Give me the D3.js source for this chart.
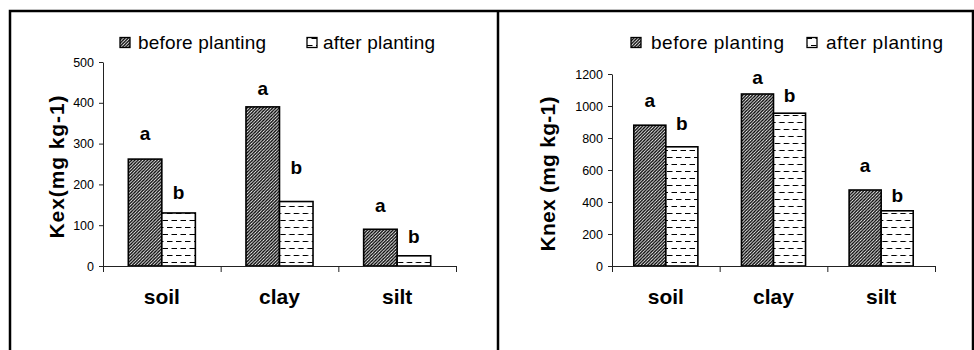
<!DOCTYPE html>
<html>
<head>
<meta charset="utf-8">
<script src="https://cdn.jsdelivr.net/npm/d3@7"></script>
<style>
  body { margin: 0; background: #fff; }
  svg { display: block; font-family: "Liberation Sans", Arial, sans-serif; }
</style>
</head>
<body>
<svg id="chart" width="974" height="350"></svg>
<script>
// the data
var categories = ['soil', 'clay', 'silt'];
var seriesNames = ['before planting', 'after planting'];

var kexBefore = [262, 390, 90];
var kexAfter = [130, 158, 25];
var kexTicks = [0, 100, 200, 300, 400, 500];

var knexBefore = [880, 1075, 475];
var knexAfter = [745, 955, 345];
var knexTicks = [0, 200, 400, 600, 800, 1000, 1200];

// significance letters and the level (in data units) where each one sits
var lettersBefore = ['a', 'a', 'a'];
var lettersAfter = ['b', 'b', 'b'];
var kexLetterLevelBefore = [309, 419, 132];
var kexLetterLevelAfter = [164, 225, 56];
var knexLetterLevelBefore = [996, 1138, 588];
var knexLetterLevelAfter = [850, 1025, 400];

var svg = d3.select('#chart');

// fill patterns
var defs = svg.append('defs');
var hatch = defs.append('pattern')
    .attr('id', 'hatch')
    .attr('patternUnits', 'userSpaceOnUse')
    .attr('width', 3.2)
    .attr('height', 3.2);
hatch.append('rect').attr('width', 3.2).attr('height', 3.2).attr('fill', '#fff');
hatch.append('path')
    .attr('d', 'M-1,1 L1,-1 M0,3.2 L3.2,0 M2.2,4.2 L4.2,2.2')
    .attr('stroke', '#000')
    .attr('stroke-width', 1.3);

var dash = defs.append('pattern')
    .attr('id', 'dash')
    .attr('patternUnits', 'userSpaceOnUse')
    .attr('width', 9)
    .attr('height', 14);
dash.append('rect').attr('width', 9).attr('height', 14).attr('fill', '#fff');
dash.append('path')
    .attr('d', 'M1,3.5 H6.5 M5.5,10.5 H11 M-3.5,10.5 H2')
    .attr('stroke', '#000')
    .attr('stroke-width', 1);

var fills = ['url(#hatch)', 'url(#dash)'];

// outer frame and divider
svg.append('path')
    .attr('d', 'M10,352 V11 H973 V352')
    .attr('fill', 'none')
    .attr('stroke', '#000')
    .attr('stroke-width', 2.5);
svg.append('line')
    .attr('x1', 498).attr('x2', 498)
    .attr('y1', 11).attr('y2', 352)
    .attr('stroke', '#000')
    .attr('stroke-width', 2.5);

function drawPanel(p) {
  var g = svg.append('g');

  var y = d3.scaleLinear().domain([0, p.max]).range([266, p.top]);
  var x = d3.scaleBand().domain(categories).range([p.left, p.right]);
  var xs = d3.scaleBand().domain(seriesNames).range([0, x.bandwidth()]).paddingOuter(p.outer);
  var xEdges = d3.scaleLinear().domain([0, categories.length]).range([p.left, p.right]);

  // bars
  var rows = categories.map(function(c, i) {
    return [
      {cat: c, s: seriesNames[0], v: p.before[i], letter: lettersBefore[i], lv: p.levelBefore[i]},
      {cat: c, s: seriesNames[1], v: p.after[i], letter: lettersAfter[i], lv: p.levelAfter[i]}
    ];
  });
  var groups = g.selectAll('g.cat')
    .data(rows)
    .enter().append('g')
      .attr('class', 'cat')
      .attr('transform', function(d) { return 'translate(' + x(d[0].cat) + ',0)'; });

  groups.selectAll('rect')
    .data(function(d) { return d; })
    .enter().append('rect')
      .attr('x', function(d) { return xs(d.s); })
      .attr('width', xs.bandwidth())
      .attr('y', function(d) { return y(d.v); })
      .attr('height', function(d) { return y(0) - y(d.v); })
      .attr('fill', function(d, i) { return fills[i]; })
      .attr('stroke', '#000')
      .attr('stroke-width', 1.6);

  groups.selectAll('text.letter')
    .data(function(d) { return d; })
    .enter().append('text')
      .attr('class', 'letter')
      .attr('x', function(d) { return xs(d.s) + xs.bandwidth() / 2; })
      .attr('y', function(d) { return y(d.lv); })
      .attr('text-anchor', 'middle')
      .attr('font-size', 19)
      .attr('font-weight', 'bold')
      .text(function(d) { return d.letter; });

  // y axis
  var yAxis = g.append('g')
      .attr('transform', 'translate(' + p.left + ',0)')
      .call(d3.axisLeft(y).tickValues(p.ticks).tickFormat(d3.format('d'))
        .tickSize(4).tickSizeOuter(0).tickPadding(5));
  yAxis.selectAll('text').attr('font-size', 12.5).attr('fill', '#000')
      .attr('font-family', '"Liberation Sans", Arial, sans-serif');
  yAxis.selectAll('path, line').attr('stroke', '#222');

  // x axis with ticks between categories
  var xAxis = g.append('g')
      .attr('transform', 'translate(0,266)')
      .call(d3.axisBottom(xEdges).tickValues(d3.range(categories.length + 1))
        .tickSize(6).tickSizeOuter(0).tickFormat(''));
  xAxis.selectAll('path, line').attr('stroke', '#222');

  g.selectAll('text.cat')
    .data(categories)
    .enter().append('text')
      .attr('class', 'cat')
      .attr('x', function(d) { return x(d) + x.bandwidth() / 2; })
      .attr('y', 304)
      .attr('text-anchor', 'middle')
      .attr('font-size', 21)
      .attr('font-weight', 'bold')
      .text(function(d) { return d; });

  // y title
  g.append('text')
      .attr('transform', 'translate(' + p.titleX + ',' + p.titleY + ') rotate(-90)')
      .attr('text-anchor', 'middle')
      .attr('dy', '0.35em')
      .attr('font-size', 21)
      .attr('font-weight', 'bold')
      .attr('textLength', p.titleLen)
      .text(p.title);

  // legend
  seriesNames.forEach(function(s, i) {
    g.append('rect')
        .attr('x', p.legendSwatch[i])
        .attr('y', 37.5)
        .attr('width', 10)
        .attr('height', 10)
        .attr('fill', fills[i])
        .attr('stroke', '#000')
        .attr('stroke-width', 1.3);
    g.append('text')
        .attr('x', p.legendText[i])
        .attr('y', 49)
        .attr('font-size', 19)
        .attr('textLength', p.legendLen[i])
        .text(s);
  });
}

drawPanel({
  before: kexBefore, after: kexAfter, ticks: kexTicks, max: 500,
  levelBefore: kexLetterLevelBefore, levelAfter: kexLetterLevelAfter,
  left: 103, right: 456, top: 62, outer: 0.755,
  title: 'Kex(mg kg-1)', titleX: 57, titleY: 167, titleLen: 143,
  legendSwatch: [120, 307], legendText: [138, 323], legendLen: [128, 112]
});

drawPanel({
  before: knexBefore, after: knexAfter, ticks: knexTicks, max: 1200,
  levelBefore: knexLetterLevelBefore, levelAfter: knexLetterLevelAfter,
  left: 612, right: 935, top: 74, outer: 0.68,
  title: 'Knex (mg kg-1)', titleX: 548, titleY: 174, titleLen: 155,
  legendSwatch: [631, 807], legendText: [651, 826], legendLen: [133, 117]
});
</script>
</body>
</html>
